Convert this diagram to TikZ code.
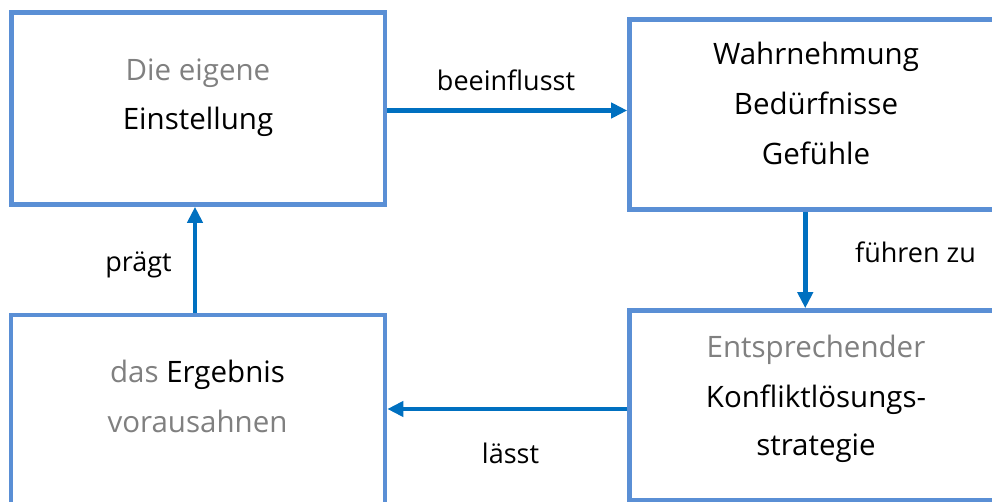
\documentclass[tikz,border=0pt]{standalone}
\usepackage{fontspec}
\setmainfont{Open Sans}
\usetikzlibrary{arrows.meta,calc}
\definecolor{boxblue}{HTML}{5A8FD5}
\definecolor{arrblue}{HTML}{0070C0}
\definecolor{softgray}{HTML}{808080}
\tikzset{
  box/.style={draw=boxblue, line width=4.6pt, rectangle, inner sep=0pt, fill=white},
  txt/.style={anchor=base, inner sep=0pt, font=\fontsize{29.5}{34}\selectfont, text=black},
  lbl/.style={anchor=base, inner sep=0pt, font=\fontsize{27}{32}\selectfont, text=black},
  arr/.style={draw=arrblue, line width=4.8pt, -{Triangle[length=16pt,width=15pt]}}
}
\begin{document}
\begin{tikzpicture}[x=1pt,y=-1pt]
\useasboundingbox (0,0) rectangle (992,502);
\clip (0,0) rectangle (992,502);
\fill[white] (0,0) rectangle (992,502);
% boxes
\node[box, minimum width=373.5pt, minimum height=192pt] (b1) at (198.25,108.5) {};
\node[box, minimum width=373.5pt, minimum height=190pt] (b2) at (816.25,114.5) {};
\node[box, minimum width=374pt, minimum height=192pt] (b3) at (198,411) {};
\node[box, minimum width=373.5pt, minimum height=189.5pt] (b4) at (816.25,405.25) {};
% box texts
\node[txt, text=softgray] (t1a) at (198,81) {Die eigene};
\node[txt] (t1b) at (198,130) {Einstellung};
\node[txt] (t2a) at (816,65) {Wahrnehmung};
\node[txt] (t2b) at (816,115) {Bedürfnisse};
\node[txt] (t2c) at (816,165) {Gefühle};
\node[txt] (t3a) at (197.5,382) {\textcolor{softgray}{das} Ergebnis};
\node[txt, text=softgray] (t3b) at (197.5,432) {vorausahnen};
\node[txt, text=softgray] (t4a) at (816,357) {Entsprechender};
\node[txt] (t4b) at (816,407) {Konfliktlösungs-};
\node[txt] (t4c) at (816,455) {strategie};
% connector labels
\node[lbl] (l1) at (506,91) {beeinflusst};
\node[lbl] (l2) at (915.5,263) {führen zu};
\node[lbl] (l3) at (138.5,272) {prägt};
\node[lbl] (l4) at (510.5,463) {lässt};
% connectors
\coordinate (a1s) at ($(b1.east)+(0,2)$);
\draw[arr] (a1s) -- (a1s -| b2.west);
\coordinate (a2s) at ($(b2.south)+(-11,0)$);
\draw[arr] (a2s) -- (a2s |- b4.north);
\coordinate (a3s) at ($(b4.west)+(0,3.75)$);
\draw[arr] (a3s) -- (a3s -| b3.east);
\coordinate (a4s) at ($(b3.north)+(-3,0)$);
\draw[arr] (a4s) -- (a4s |- b1.south);
\end{tikzpicture}
\end{document}
